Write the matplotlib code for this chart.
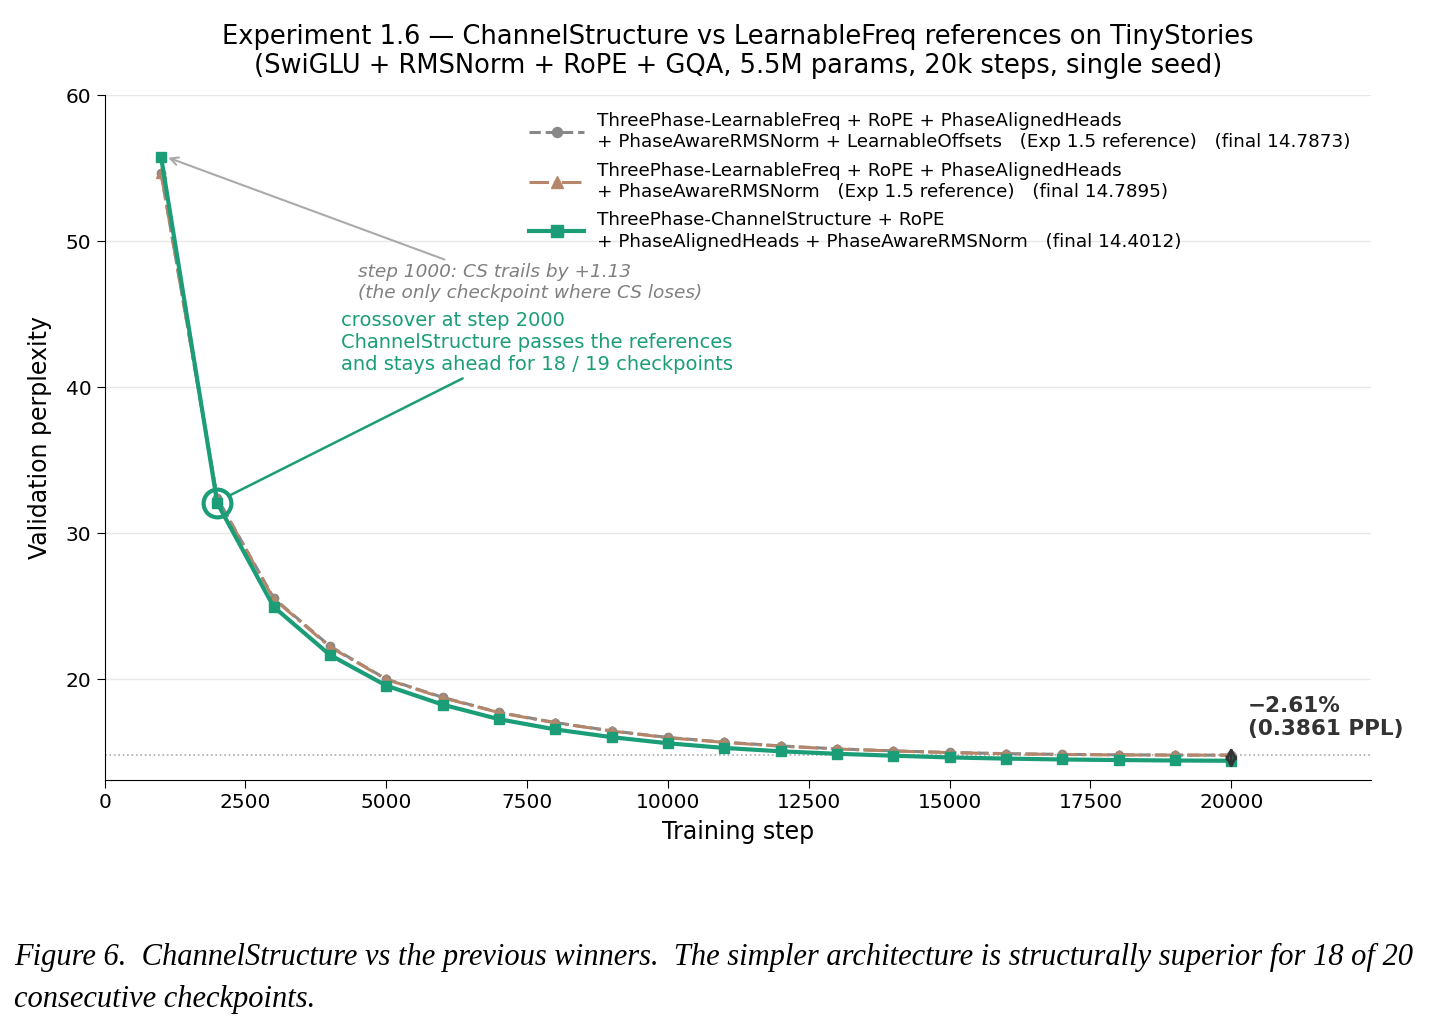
import matplotlib
matplotlib.use('Agg')
import matplotlib.pyplot as plt

steps = [1000, 2000, 3000, 4000, 5000, 6000, 7000, 8000, 9000, 10000,
         11000, 12000, 13000, 14000, 15000, 16000, 17000, 18000, 19000, 20000]
# Exp 1.5 reference with LearnableOffsets
lf_offsets = [54.67, 32.40, 25.55, 22.25, 20.00, 18.75, 17.72, 17.02, 16.45, 16.00,
              15.68, 15.42, 15.22, 15.08, 14.97, 14.89, 14.84, 14.81, 14.79, 14.7873]
# Exp 1.5 reference without offsets
lf_plain = [54.70, 32.35, 25.50, 22.20, 19.98, 18.72, 17.70, 17.00, 16.44, 15.98,
            15.66, 15.40, 15.21, 15.07, 14.96, 14.88, 14.83, 14.80, 14.79, 14.7895]
# ChannelStructure
cs = [55.80, 32.05, 24.95, 21.65, 19.55, 18.25, 17.25, 16.55, 16.02, 15.60,
      15.28, 15.05, 14.88, 14.75, 14.63, 14.55, 14.49, 14.45, 14.42, 14.4012]

labels = [
    'ThreePhase-LearnableFreq + RoPE + PhaseAlignedHeads\n+ PhaseAwareRMSNorm + LearnableOffsets   (Exp 1.5 reference)   (final 14.7873)',
    'ThreePhase-LearnableFreq + RoPE + PhaseAlignedHeads\n+ PhaseAwareRMSNorm   (Exp 1.5 reference)   (final 14.7895)',
    'ThreePhase-ChannelStructure + RoPE\n+ PhaseAlignedHeads + PhaseAwareRMSNorm   (final 14.4012)',
]

c_gray = '#888888'
c_tan = '#b5866a'
c_green = '#1b9e77'

fig = plt.figure(figsize=(14.34, 10.26), dpi=100)
ax = fig.add_axes([0.073, 0.24, 0.883, 0.667])

ax.plot(steps, lf_offsets, color=c_gray, ls='--', lw=2.2, marker='o', ms=6, label=labels[0])
ax.plot(steps, lf_plain, color=c_tan, ls='-.', lw=2.2, marker='^', ms=7, label=labels[1])
ax.plot(steps, cs, color=c_green, ls='-', lw=3, marker='s', ms=7, label=labels[2])

# reference final line
ax.axhline(lf_offsets[-1], color='#aaaaaa', ls=':', lw=1.2, zorder=0)

# crossover circle
ax.plot([steps[1]], [cs[1]], marker='o', ms=20, mfc='none', mec=c_green, mew=3)

ax.annotate('step 1000: CS trails by +1.13\n(the only checkpoint where CS loses)',
            xy=(steps[0] + 80, cs[0]), xytext=(4500, 48.5), va='top',
            fontsize=13.3, style='italic', color='#808080',
            arrowprops=dict(arrowstyle='->', color='#aaaaaa', lw=1.5,
                            relpos=(0.28, 1.0), mutation_scale=14))
ax.annotate('crossover at step 2000\nChannelStructure passes the references\nand stays ahead for 18 / 19 checkpoints',
            xy=(steps[1] + 150, cs[1] + 0.4), xytext=(4200, 45.2), va='top',
            fontsize=14, color=c_green,
            arrowprops=dict(arrowstyle='-', color=c_green, lw=1.8,
                            relpos=(0.33, 0.0)))

# final gap arrow
ax.annotate('', xy=(steps[-1], cs[-1] - 0.55), xytext=(steps[-1], lf_offsets[-1] + 0.55),
            arrowprops=dict(arrowstyle='<->', color='#333333', lw=2, mutation_scale=16,
                            shrinkA=0, shrinkB=0), zorder=6)
ax.text(20300, 18.85, '\u22122.61%\n(0.3861 PPL)', fontsize=15.5, fontweight='bold',
        color='#333333', va='top', ha='left', linespacing=1.2)

ax.set_xlim(0, 22480)
ax.set_ylim(13.1, 60)
ax.set_yticks([20, 30, 40, 50, 60])
ax.set_xticks(range(0, 20001, 2500))
ax.tick_params(labelsize=14.5, length=6)
ax.grid(axis='y', color='#e8e8e8', lw=1)
ax.set_axisbelow(True)
ax.spines['top'].set_visible(False)
ax.spines['right'].set_visible(False)
ax.set_xlabel('Training step', fontsize=17, labelpad=6)
ax.set_ylabel('Validation perplexity', fontsize=17, labelpad=10)
ax.set_title('Experiment 1.6 \u2014 ChannelStructure vs LearnableFreq references on TinyStories\n'
             '(SwiGLU + RMSNorm + RoPE + GQA, 5.5M params, 20k steps, single seed)',
             fontsize=18.5, pad=16, linespacing=1.15)

leg = ax.legend(loc='upper right', bbox_to_anchor=(0.997, 1.0), frameon=False, fontsize=13.2,
                handlelength=3, handletextpad=0.7, labelspacing=0.55, markerscale=1.2)
for t in leg.get_texts():
    t.set_linespacing(1.25)

fig.text(0.01, 0.059, 'Figure 6.  ChannelStructure vs the previous winners.  The simpler architecture is structurally superior for 18 of 20',
         fontsize=22, family='Liberation Serif', style='italic')
fig.text(0.01, 0.019, 'consecutive checkpoints.', fontsize=22, family='Liberation Serif', style='italic')

fig.savefig('out.png', dpi=100)
